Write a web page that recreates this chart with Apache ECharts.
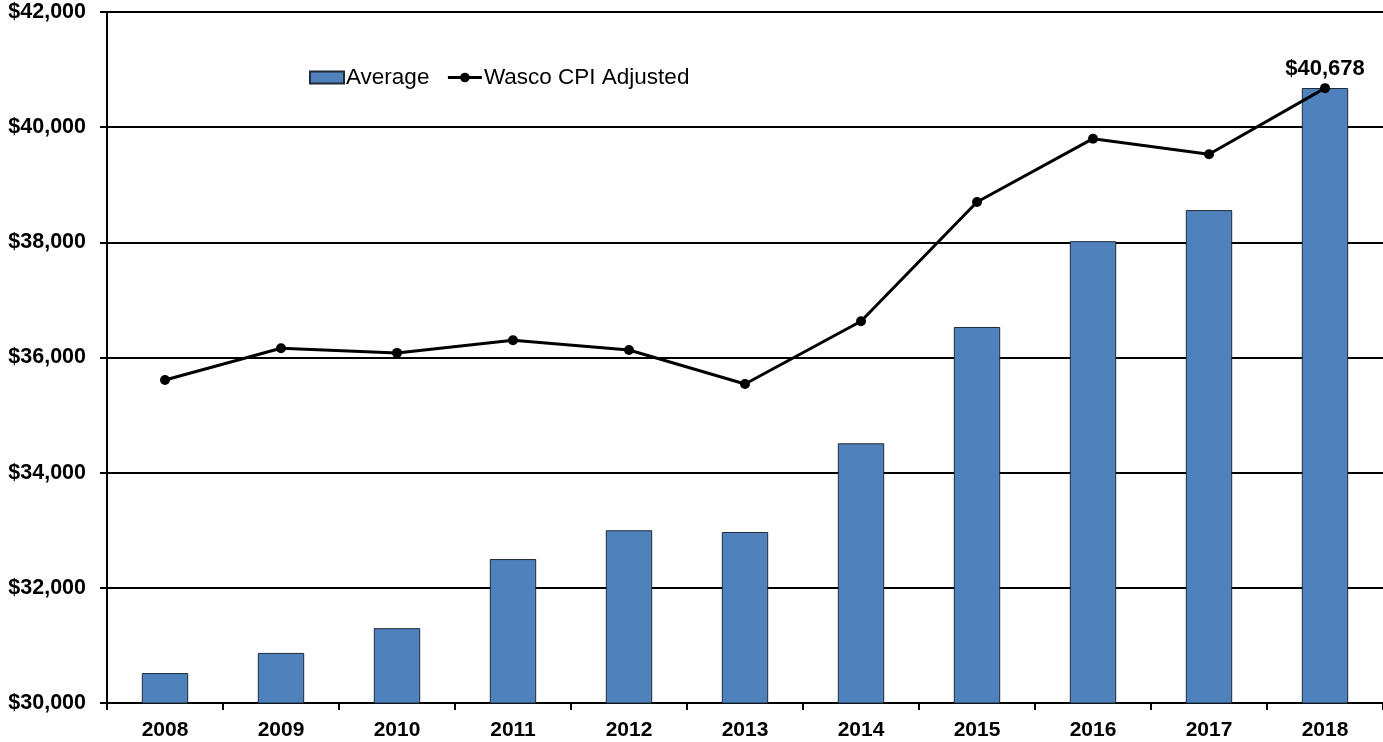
<!DOCTYPE html>
<html>
<head>
<meta charset="utf-8">
<script src="https://cdn.jsdelivr.net/npm/echarts@6/dist/echarts.min.js"></script>
<style>
  html, body { margin: 0; padding: 0; background: #fff; }
  #chart { width: 1383px; height: 742px; }
</style>
</head>
<body>
<div id="chart"></div>
<script>
// Average wage vs CPI-adjusted, 2008-2018
const years = ["2008", "2009", "2010", "2011", "2012", "2013", "2014", "2015", "2016", "2017", "2018"];
const average = [30520, 30870, 31300, 32500, 33000, 32970, 34510, 36530, 38020, 38560, 40680];
const cpiAdjusted = [35610, 36160, 36080, 36300, 36130, 35540, 36630, 38700, 39800, 39530, 40678];
const yTicks = { min: 30000, max: 42000, step: 2000 };

const FONT = "'Liberation Sans', Arial, sans-serif";
const money = (v) => "$" + v.toLocaleString("en-US");

const lineData = cpiAdjusted.map((v, i) =>
  i === cpiAdjusted.length - 1
    ? { value: v, label: { show: true, position: "top", distance: 3, formatter: (p) => money(p.value),
        color: "#000", fontWeight: "bold", fontSize: 22, fontFamily: FONT } }
    : v
);

const chart = echarts.init(document.getElementById("chart"), null, { renderer: "canvas" });
chart.setOption({
  animation: false,
  textStyle: { fontFamily: FONT },
  grid: { left: 107, right: 0, top: 12, bottom: 39, containLabel: false },
  legend: {
    left: 304, top: 61,
    itemWidth: 34, itemHeight: 12, itemGap: 17,
    textStyle: { color: "#000", fontSize: 22.5, fontFamily: FONT, padding: [0, 0, 0, -3] },
    data: [
      { name: "Average", icon: "rect" },
      { name: "Wasco CPI Adjusted", lineStyle: { width: 3, color: "#000" } },
    ],
  },
  xAxis: {
    type: "category",
    data: years,
    axisLine: { lineStyle: { color: "#000", width: 2 } },
    axisTick: { show: true, alignWithLabel: false, length: 7, lineStyle: { color: "#000", width: 2 } },
    axisLabel: { color: "#000", fontWeight: "bold", fontSize: 21, fontFamily: FONT, margin: 17 },
  },
  yAxis: {
    type: "value",
    min: yTicks.min, max: yTicks.max, interval: yTicks.step,
    axisLine: { show: true, lineStyle: { color: "#000", width: 2 } },
    axisTick: { show: true, length: 7, lineStyle: { color: "#000", width: 2 } },
    axisLabel: { color: "#000", fontWeight: "bold", fontSize: 21.5, fontFamily: FONT, margin: 21,
                 formatter: money },
    splitLine: { lineStyle: { color: "#000", width: 2 } },
  },
  series: [
    {
      name: "Average",
      type: "bar",
      data: average,
      barWidth: "40%",
      itemStyle: { color: "#4F81BD", borderColor: "#1f2a3a", borderWidth: 1 },
    },
    {
      name: "Wasco CPI Adjusted",
      type: "line",
      data: lineData,
      symbol: "circle",
      symbolSize: 10,
      lineStyle: { color: "#000", width: 3 },
      itemStyle: { color: "#000" },
      z: 5,
    },
  ],
});
</script>
</body>
</html>
